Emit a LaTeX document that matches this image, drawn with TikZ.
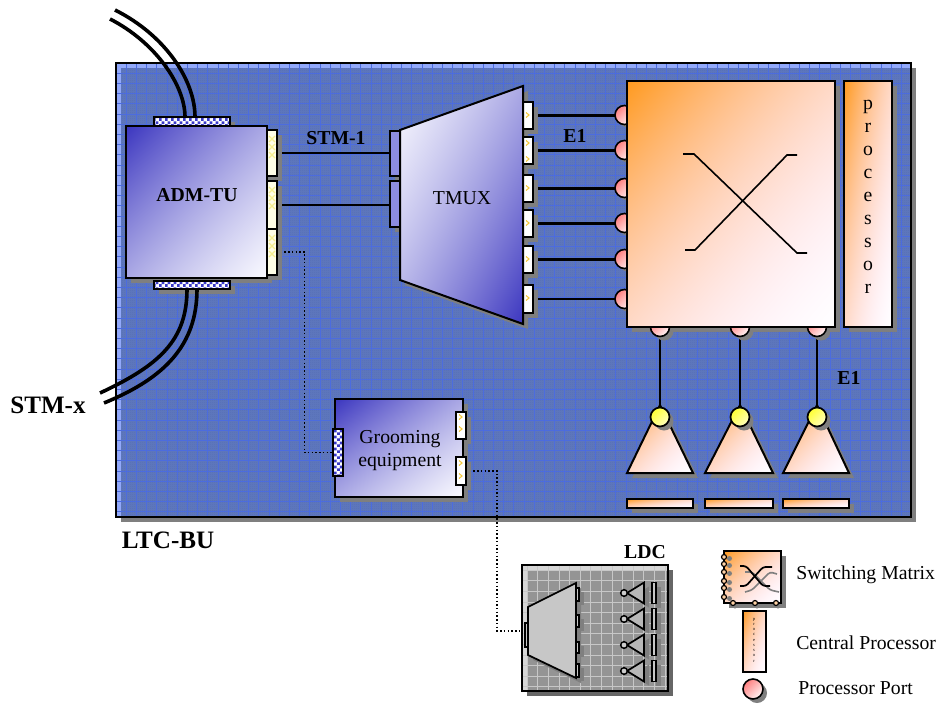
\documentclass[tikz,border=0pt]{standalone}
\usepackage{fontspec}
\setmainfont{Liberation Serif}
\usetikzlibrary{patterns,calc,shapes.geometric}
\pgfdeclarelayer{boardlayer}
\pgfdeclarelayer{conn}
\pgfsetlayers{boardlayer,conn,main}
\definecolor{shad}{HTML}{7F7F7F}
\definecolor{boardbase}{HTML}{5F78BE}
\definecolor{boarddot}{HTML}{566FB6}
\definecolor{boardband}{HTML}{92A9FB}
\definecolor{gridblue}{HTML}{4C6CDE}
\definecolor{chkblue}{HTML}{3A3AC8}
\definecolor{markc}{HTML}{F5C838}
\definecolor{markp}{HTML}{F5EE90}
\definecolor{tmfill}{HTML}{8C8CE0}
\pgfdeclarefunctionalshading{orngf}{\pgfpointorigin}{\pgfpoint{100bp}{100bp}}{}{
 exch sub 50 add 100 div
 dup dup dup mul add 2 div 0.396 mul 1 exch sub
 exch
 dup mul 0.88 mul 1 exch sub
 1 3 1 roll
}
\pgfdeclarefunctionalshading{bluf}{\pgfpointorigin}{\pgfpoint{100bp}{100bp}}{}{
 exch sub 50 add 100 div
 dup dup mul exch 2 mul add 3 div
 dup 0.75 mul 0.98 exch sub
 exch dup 0.77 mul 0.98 exch sub
 exch 0.25 mul 1 exch sub
}
\pgfdeclarefunctionalshading{blurf}{\pgfpointorigin}{\pgfpoint{100bp}{100bp}}{}{
 sub 50 add 100 div
 dup dup mul exch 2 mul add 3 div
 dup 0.75 mul 0.98 exch sub
 exch dup 0.77 mul 0.98 exch sub
 exch 0.25 mul 1 exch sub
}
\pgfdeclareverticalshading{pinkb}{100bp}{color(0bp)=(white);color(25bp)=(white!85!pink);color(75bp)=(red!50!white);color(100bp)=(red!50!white)}
\pgfdeclareverticalshading{yelb}{100bp}{color(0bp)=(yellow!25!white);color(25bp)=(yellow!25!white);color(75bp)=(yellow!80!white);color(100bp)=(yellow!80!white)}
\pgfdeclarepatternformonly{chkp}{\pgfqpoint{0pt}{0pt}}{\pgfqpoint{4.6pt}{4.6pt}}{\pgfqpoint{4.6pt}{4.6pt}}{\pgfpathrectangle{\pgfqpoint{0pt}{0pt}}{\pgfqpoint{2.3pt}{2.3pt}}\pgfpathrectangle{\pgfqpoint{2.3pt}{2.3pt}}{\pgfqpoint{2.3pt}{2.3pt}}\pgfusepath{fill}}
\pgfdeclarepatternformonly{finep}{\pgfqpoint{0pt}{0pt}}{\pgfqpoint{1.5pt}{1.5pt}}{\pgfqpoint{1.5pt}{1.5pt}}{\pgfpathrectangle{\pgfqpoint{0pt}{0pt}}{\pgfqpoint{.75pt}{.75pt}}\pgfpathrectangle{\pgfqpoint{.75pt}{.75pt}}{\pgfqpoint{.75pt}{.75pt}}\pgfusepath{fill}}
\tikzset{
 outl/.style={draw=black,line width=1.5pt},
 boxbase/.style={rectangle,inner sep=0pt,outer sep=0pt},
 lab/.style={font=\fontsize{14.8}{17.25}\selectfont,inner sep=0pt},
 blab/.style={font=\fontsize{14.8}{17.25}\selectfont\bfseries,inner sep=0pt},
 bigb/.style={font=\fontsize{18.8}{22}\selectfont\bfseries,inner sep=0pt},
 wire/.style={line width=1.6pt,draw=black},
 dotw/.style={line width=1.2pt,draw=black,dash pattern=on 1.1pt off 1.7pt},
 cable/.style={line width=2.7pt,draw=black},
 bluebox/.style={outl,shading=bluf},
 blueboxr/.style={outl,shading=blurf},
 orbox/.style={outl,shading=orngf},
 chkbox/.style={outl,preaction={fill=white},pattern=chkp,pattern color=chkblue},
 tmport/.style={outl,fill=tmfill},
 wport/.style={outl,fill=white},
 yport/.style={outl,fill=yellow!10!white},
 pcirc/.style={circle,inner sep=0pt,outer sep=0pt,minimum size=14.25pt,draw=black,line width=1.2pt,shading=pinkb,shading angle=45},
 ycirc/.style={circle,inner sep=0pt,outer sep=0pt,minimum size=14.25pt,draw=black,line width=1.3pt,shading=yelb,shading angle=45},
 lcirc/.style={circle,inner sep=0pt,outer sep=0pt,minimum size=5pt,draw=black,line width=1.1pt,fill=black!20},
 legc/.style={circle,inner sep=0pt,outer sep=0pt,minimum size=3.75pt,draw=black,line width=.9pt,fill=orange!35!white},
 ldcbox/.style={rectangle,inner sep=0pt,outer sep=0pt,draw=black,line width=1.2pt,fill=black!22},
}
\newcommand\bx[6]{% name x1 y1 x2 y2 style
 \pgfmathsetmacro\bw{((#4)-(#2))*0.75}\pgfmathsetmacro\bh{((#5)-(#3))*0.75}
 \node[boxbase,#6,minimum width=\bw pt,minimum height=\bh pt] (#1) at ({((#2)+(#4))/2},{((#3)+(#5))/2}) {};}
\newcommand\shd[4]{\fill[shad] ({#1+5},{#2+5}) rectangle ({#3+5},{#4+5});}
\newcommand\shbx[6]{\shd{#2}{#3}{#4}{#5}\bx{#1}{#2}{#3}{#4}{#5}{#6}}
\newcommand\ymk[2]{\foreach \my in {#2}{\draw[markc,line width=.8pt] ({#1-2},{\my-2.5}) -- ({#1+1},\my) -- ({#1-2},{\my+2.5});}}
\newcommand\ypl[2]{\foreach \my in {#2}{\draw[markp,line width=.9pt] ({#1-3},{\my-3}) -- ({#1+3},{\my+3}) ({#1-3},{\my+3}) -- ({#1+3},{\my-3});}}
\begin{document}
\begin{tikzpicture}[x=0.75pt,y=-0.75pt]
\useasboundingbox (0,0) rectangle (938,703);
% board
\begin{pgfonlayer}{boardlayer}
\fill[shad] (121,68) rectangle (916,522);
\fill[boardband] (116,63) rectangle (911,517);
\fill[boardbase] (121,68) rectangle (911,517);
\fill[pattern=finep,pattern color=boarddot] (121,68) rectangle (911,517);
\begin{scope}
\clip (116,63) rectangle (911,517);
\foreach \gx in {0,...,78}{\draw[gridblue,line width=.35pt] ({126+\gx*10.2},63) -- ({126+\gx*10.2},517);}
\foreach \gy in {0,...,45}{\draw[gridblue,line width=.35pt] (116,{73+\gy*10.2}) -- (911,{73+\gy*10.2});}
\end{scope}
\draw[black,line width=1.5pt] (116,63) rectangle (911,517);
\end{pgfonlayer}
% ADM-TU
\shd{126}{126}{267}{278}
\shd{154}{117}{230}{126}
\shd{154}{281}{230}{289}
\shbx{admp1}{267}{130}{277}{176}{yport}\ypl{272}{139,147,155}
\shbx{admp2}{267}{181}{277}{229}{yport}\ypl{272}{190,198,206}
\shbx{admp3}{267}{229}{277}{275}{yport}\ypl{272}{238,246,254}
\bx{adm}{126}{126}{267}{278}{bluebox}
\bx{ctop}{154}{117}{230}{126}{chkbox}
\bx{cbot}{154}{281}{230}{289}{chkbox}
\node[blab] (admlab) at (197,195) {ADM-TU};
% TMUX
\fill[shad] (405,135) -- (528,91) -- (528,329) -- (405,285) -- cycle;
\shbx{tl1}{390}{131}{400}{176}{tmport}
\shbx{tl2}{390}{181}{400}{227}{tmport}
\shbx{tr1}{523}{102}{533}{129}{wport}\ymk{528}{115}
\shbx{tr2}{523}{137}{533}{164}{wport}\ymk{528}{143,159}
\shbx{tr3}{523}{175}{533}{202}{wport}\ymk{528}{188}
\shbx{tr4}{523}{210}{533}{237}{wport}\ymk{528}{223}
\shbx{tr5}{523}{246}{533}{273}{wport}\ymk{528}{259}
\shbx{tr6}{523}{285}{533}{313}{wport}\ymk{528}{298}
\draw[blueboxr,line join=miter] (400,130) -- (523,86) -- (523,324) -- (400,280) -- cycle;
\node[lab] (tmuxlab) at (462,198) {TMUX};
% matrix
\shd{627}{81}{835}{327}
\shd{844}{81}{892}{327}
\foreach \nm/\py in {1/115,2/150,3/188,4/223,5/259,6/299}{
 \fill[shad] (628,{\py+3}) circle (9.5);
 \node[pcirc] (mp\nm) at (624.5,\py) {};
}
\foreach \nm/\px in {1/660,2/740,3/817}{
 \fill[shad] ({\px+4},331) circle (9.5);
 \node[pcirc] (mb\nm) at (\px,327) {};
}
\bx{mtx}{627}{81}{835}{327}{orbox}
\bx{proc}{844}{81}{892}{327}{orbox}
\node[lab,align=center] (proclab) at (868,197) {p\\r\\o\\c\\e\\s\\s\\o\\r};
\coordinate (xa) at (683,154);\coordinate (xb) at (694,154);\coordinate (xc) at (797,253);\coordinate (xd) at (807,253);
\coordinate (xe) at (685,250);\coordinate (xf) at (695,250);\coordinate (xg) at (787,155);\coordinate (xh) at (797,155);
\draw[line width=1.2pt] (xa) -- (xb) -- (xc) -- (xd);
\draw[line width=1.2pt] (xe) -- (xf) -- (xg) -- (xh);
% trunks
\foreach \nm/\xa/\xb/\xc in {1/627/660/693,2/705/740/773,3/783/817/849}{
 \fill[shad] ({\xa+5},478) -- ({\xc+5},478) -- ({\xb+5},410) -- cycle;
 \draw[orbox,line join=miter] (\xa,473) -- (\xc,473) -- (\xb,405) -- cycle;
 \fill[shad] ({\xb+4},421) circle (9.5);
 \node[ycirc] (yc\nm) at (\xb,417) {};
 \shbx{bar\nm}{\xa}{499}{\xc}{508}{orbox}
}
% grooming
\shd{335}{399}{463}{497}
\shd{333}{429}{343}{476}
\shd{456}{412}{466}{439}
\shd{456}{457}{466}{485}
\bx{grm}{335}{399}{463}{497}{bluebox}
\bx{gl}{333}{429}{343}{476}{chkbox}
\bx{gr1}{456}{412}{466}{439}{wport}\ymk{461}{417,429}
\bx{gr2}{456}{457}{466}{485}{wport}\ymk{461}{463,476}
\node[lab,align=center] (grmlab) at (400,450.5) {Grooming\\equipment};
% LDC
\fill[black!60] (527,570) rectangle (673,696);
\fill[black!16] (522,565) rectangle (668,691);
\fill[black!42] (527,570) rectangle (668,691);
\begin{scope}
\clip (522,565) rectangle (668,691);
\foreach \gx in {0,...,13}{\draw[black!22,line width=.4pt] ({527+\gx*10.6},565) -- ({527+\gx*10.6},691);}
\foreach \gy in {0,...,12}{\draw[black!22,line width=.4pt] (522,{570+\gy*10.6}) -- (668,{570+\gy*10.6});}
\end{scope}
\node[boxbase,draw=black,line width=1.4pt,minimum width=109.5pt,minimum height=94.5pt] (ldc) at (595,628) {};
\fill[shad] (533,612) -- (581,588) -- (581,683) -- (533,660) -- cycle;
\foreach \nm/\ya/\yb in {1/588/601,2/615/627,3/642/653,4/664/677}{
 \fill[shad] (581,{\ya+4}) rectangle (584,{\yb+4});
 \bx{lp\nm}{576}{\ya}{579}{\yb}{ldcbox}
}
\bx{ldcin}{525}{623}{528}{647}{ldcbox}
\draw[line width=1.3pt,fill=black!22,line join=miter] (528,607) -- (576,583) -- (576,678) -- (528,655) -- cycle;
\foreach \nm/\yc in {1/593,2/619,3/645,4/671}{
 \fill[shad] (632,{\yc+4}) -- (649,{\yc-6.5}) -- (649,{\yc+14.5}) -- cycle;
 \draw[line width=1.3pt,fill=black!28,line join=miter] (627,\yc) -- (644,{\yc-10.5}) -- (644,{\yc+10.5}) -- cycle;
 \node[lcirc] (lc\nm) at (624,\yc) {};
 \fill[shad] (656,{\yc-6}) rectangle (661,{\yc+15});
 \bx{lb\nm}{652}{\yc-10.5}{656}{\yc+10.5}{ldcbox}
}
% wires, beneath the boxes
\begin{pgfonlayer}{conn}
\draw[wire] (admp1.east) -- (admp1.east -| tl1.west);
\draw[wire] (admp2.east) -- (admp2.east -| tl2.west);
\foreach \nm in {1,...,6}{\draw[wire] (tr\nm.east) -- (tr\nm.east -| mp\nm.center);}
\foreach \nm in {1,2,3}{\draw[wire] (mb\nm.center) -- (yc\nm.center);}
\coordinate (da) at (304.5,350);
\coordinate (db) at (497,550);
\draw[dotw] (admp3.east) -| (da) |- (gl.west);
\draw[dotw] (gr2.east) -| (db) |- ([yshift=3pt]ldcin.west);
\foreach \nm in {1,...,4}{\draw[wire] (lp\nm.east) -- (lp\nm.east -| lc\nm.center);}
\end{pgfonlayer}
% cables
\coordinate (tca) at (115,10);
\coordinate (tcb) at (110,19);
\coordinate (bca) at (100,393);
\coordinate (bcb) at (104,403);
\draw[cable] (tca) .. controls (165,35) and (195,80) .. ([xshift=2.25pt]ctop.north);
\draw[cable] (tcb) .. controls (155,42) and (185,85) .. ([xshift=-5.25pt]ctop.north);
\draw[cable] ([xshift=-3.75pt]cbot.south) .. controls (187,340) and (160,365) .. (bca);
\draw[cable] ([xshift=3.75pt]cbot.south) .. controls (197,345) and (165,378) .. (bcb);
% labels
\node[blab] (stm1) at (336,138.5) {STM-1};
\node[blab] (e1a) at (575,136) {E1};
\node[blab] (e1b) at (849,378) {E1};
\node[bigb] (stmx) at (48,405) {STM-x};
\node[bigb] (ltc) at (168,540) {LTC-BU};
\node[blab] (ldclab) at (645,552) {LDC};
% legend
\fill[shad] (729,556) rectangle (786,608);
\bx{lgm}{724}{551}{781}{603}{orbox}
\draw[shad,line width=1.2pt,rounded corners=2pt] (745,592) -- (752,590) -- (770,572) -- (777,574);
\draw[shad,line width=1.2pt,rounded corners=2pt] (745,572) -- (752,572) -- (770,590) -- (779,592);
\draw[line width=1.3pt,rounded corners=2pt] (740,566) -- (746,566) -- (763,586) -- (770,586);
\draw[line width=1.3pt,rounded corners=2pt] (740,586) -- (746,586) -- (763,567) -- (772,567);
\foreach \nm/\ly in {1/557,2/564,3/572,4/581,5/588,6/597}{\fill[shad] (729.5,{\ly+1.5}) circle (2.5);\node[legc] (lgl\nm) at (724,\ly) {};}
\foreach \nm/\lx in {1/733,2/755,3/776}{\fill[shad] ({\lx+2},606) circle (2.5);\node[legc] (lgb\nm) at (\lx,603) {};}
\bx{lgp}{743}{611}{766}{672}{orbox,line width=1pt}
\node[font=\fontsize{3.4}{3.95}\selectfont,align=center,inner sep=0pt] (lgptxt) at (754,640) {p\\r\\o\\c\\e\\s\\s\\o\\r};
\fill[shad] (757,693) circle (10);
\node[pcirc,minimum size=15pt] (lgc) at (753,689) {};
\node[lab,anchor=west] (t1) at (796,575) {Switching Matrix};
\node[lab,anchor=west] (t2) at (796,643) {Central Processor};
\node[lab,anchor=west] (t3) at (798,688) {Processor Port};
\end{tikzpicture}
\end{document}
